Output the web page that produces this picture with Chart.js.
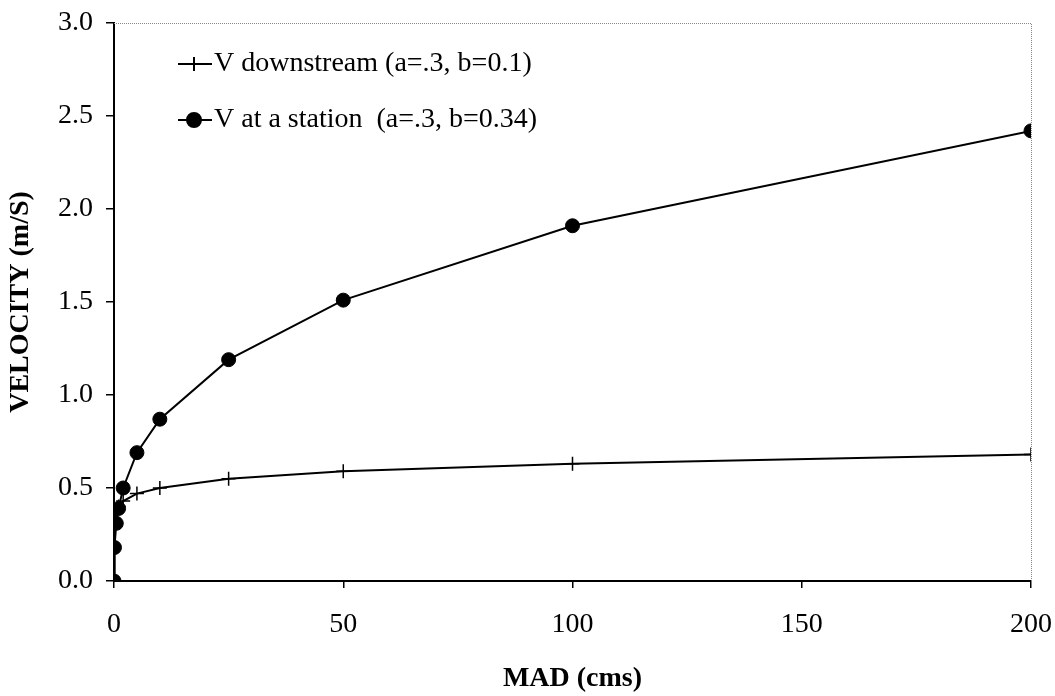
<!DOCTYPE html>
<html>
<head>
<meta charset="utf-8">
<script src="https://cdn.jsdelivr.net/npm/chart.js@4/dist/chart.umd.min.js"></script>
<style>
html,body{margin:0;padding:0;background:#fff;}
#wrap{width:1055px;height:696px;position:relative;}
</style>
</head>
<body>
<div id="wrap"><canvas id="c" width="1055" height="696"></canvas></div>
<script>
const madCms = [0, 0.1, 0.5, 1, 2, 5, 10, 25, 50, 100, 200];
const vDownstream = [0, 0.32, 0.37, 0.40, 0.43, 0.47, 0.50, 0.55, 0.59, 0.63, 0.68];
const vStation = [0, 0.18, 0.31, 0.39, 0.50, 0.69, 0.87, 1.19, 1.51, 1.91, 2.42];
const seriesNames = ["V downstream (a=.3, b=0.1)", "V at a station  (a=.3, b=0.34)"];
const xTicks = [0, 50, 100, 150, 200];
const yTicks = [0, 0.5, 1.0, 1.5, 2.0, 2.5, 3.0];

const SERIF = "'Liberation Serif', 'DejaVu Serif', serif";

const framePlugin = {
  id: 'frame',
  afterDraw(chart) {
    const {ctx, chartArea: a} = chart;
    ctx.save();
    ctx.strokeStyle = '#888';
    ctx.lineWidth = 1;
    ctx.setLineDash([1, 1]);
    ctx.beginPath();
    ctx.moveTo(a.left, a.top + 0.5);
    ctx.lineTo(a.right + 0.5, a.top + 0.5);
    ctx.lineTo(a.right + 0.5, a.bottom);
    ctx.stroke();
    ctx.restore();
  }
};

const legendPlugin = {
  id: 'customLegend',
  afterDraw(chart) {
    const ctx = chart.ctx;
    const rows = [64, 120];
    chart.data.datasets.forEach((ds, i) => {
      const y = rows[i];
      ctx.save();
      ctx.strokeStyle = '#000';
      ctx.lineWidth = 2;
      ctx.beginPath();
      ctx.moveTo(178, y);
      ctx.lineTo(212, y);
      ctx.stroke();
      Chart.helpers.drawPoint(ctx, {
        pointStyle: ds.pointStyle,
        radius: ds.pointRadius,
        borderWidth: ds.pointBorderWidth
      }, 194, y);
      if (ds.pointStyle === 'circle') {
        ctx.fillStyle = '#000';
        ctx.beginPath();
        ctx.arc(194, y, ds.pointRadius, 0, Math.PI * 2);
        ctx.fill();
      }
      ctx.fillStyle = '#000';
      ctx.font = "28px " + SERIF;
      ctx.textBaseline = 'middle';
      ctx.textAlign = 'left';
      ctx.fillText(ds.label, 214, y);
      ctx.restore();
    });
  }
};

function noPad(s) {
  s.paddingLeft = 0; s.paddingRight = 0; s.paddingTop = 0; s.paddingBottom = 0;
}

new Chart(document.getElementById('c'), {
  type: 'scatter',
  data: {
    datasets: [
      {
        label: seriesNames[0],
        data: madCms.map((x, i) => ({x: x, y: vDownstream[i]})),
        showLine: true,
        borderColor: '#000',
        borderWidth: 2,
        backgroundColor: '#000',
        pointStyle: 'cross',
        pointRadius: 7,
        pointBorderWidth: 1.5,
        pointBorderColor: '#000',
        tension: 0
      },
      {
        label: seriesNames[1],
        data: madCms.map((x, i) => ({x: x, y: vStation[i]})),
        showLine: true,
        borderColor: '#000',
        borderWidth: 2,
        backgroundColor: '#000',
        pointStyle: 'circle',
        pointRadius: 7,
        pointBorderWidth: 1,
        pointBorderColor: '#000',
        pointBackgroundColor: '#000',
        tension: 0
      }
    ]
  },
  options: {
    responsive: false,
    animation: false,
    devicePixelRatio: 1,
    layout: {padding: {top: 23, right: 24, left: 0, bottom: 0}},
    plugins: {
      legend: {display: false},
      tooltip: {enabled: false}
    },
    scales: {
      x: {
        type: 'linear',
        min: 0, max: 200,
        afterFit(s) { s.height = 115; noPad(s); },
        afterBuildTicks(s) { s.ticks = xTicks.map(v => ({value: v})); },
        border: {display: true, color: '#000', width: 2},
        grid: {display: true, drawOnChartArea: false, drawTicks: true, tickLength: 7, color: '#000', lineWidth: 1.5},
        ticks: {color: '#000', font: {family: SERIF, size: 28}, padding: 20, maxRotation: 0},
        title: {display: true, text: 'MAD (cms)', color: '#000', font: {family: SERIF, size: 28, weight: 'bold'}, padding: {top: 12, bottom: 0}}
      },
      y: {
        type: 'linear',
        min: 0, max: 3.0,
        afterFit(s) { s.width = 114; noPad(s); },
        afterBuildTicks(s) { s.ticks = yTicks.map(v => ({value: v})); },
        border: {display: true, color: '#000', width: 2},
        grid: {display: true, drawOnChartArea: false, drawTicks: true, tickLength: 8, color: '#000', lineWidth: 1.5},
        ticks: {color: '#000', font: {family: SERIF, size: 28}, padding: 13, callback: v => Number(v).toFixed(1)},
        title: {display: true, text: 'VELOCITY (m/S)', color: '#000', font: {family: SERIF, size: 28, weight: 'bold'}, padding: {top: 4, bottom: 0}}
      }
    }
  },
  plugins: [framePlugin, legendPlugin]
});
</script>
</body>
</html>
